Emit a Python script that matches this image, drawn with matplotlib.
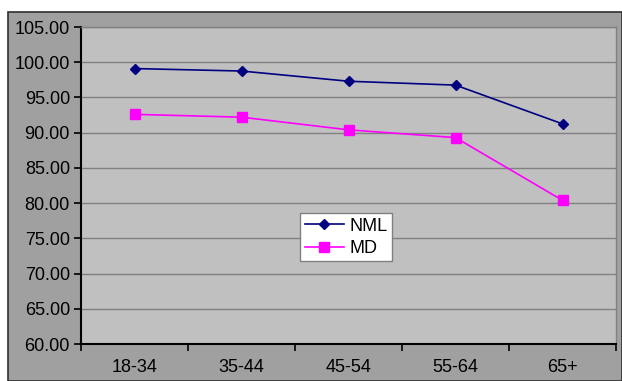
import matplotlib
matplotlib.use('Agg')
import matplotlib.pyplot as plt
from matplotlib.patches import Rectangle
import numpy as np

plt.rcParams['font.family'] = ['Liberation Sans', 'DejaVu Sans']

categories = ['18-34', '35-44', '45-54', '55-64', '65+']
nml = [99.1, 98.75, 97.3, 96.75, 91.25]
md = [92.6, 92.2, 90.4, 89.3, 80.4]
yticks = [60, 65, 70, 75, 80, 85, 90, 95, 100, 105]

fig = plt.figure(figsize=(6.22, 3.81), dpi=100)
fig.patch.set_facecolor('white')
# outer grey chart area
fig.add_artist(Rectangle((8 / 622, 0), 1 - 8 / 622, (381 - 12) / 381,
                         transform=fig.transFigure, facecolor='#a0a0a0',
                         edgecolor='#303030', linewidth=1.2, zorder=-10))

ax = fig.add_axes([81 / 622, 1 - 344 / 381, 535 / 622, (344 - 27) / 381])
ax.set_facecolor('#c0c0c0')

x = np.arange(len(categories))
ax.plot(x, nml, color='#000080', marker='D', markersize=5, linewidth=1.2, label='NML')
ax.plot(x, md, color='#ff00ff', marker='s', markersize=7, linewidth=1.2, label='MD')

ax.set_xlim(-0.5, len(categories) - 0.5)
ax.set_ylim(60, 105)
ax.set_yticks(yticks)
ax.set_yticklabels(['%.2f' % v for v in yticks], fontsize=13)
ax.yaxis.grid(True, color='#808080', linewidth=1)
ax.set_axisbelow(True)

ax.set_xticks(x)
ax.set_xticklabels(categories, fontsize=13)
ax.set_xticks(np.arange(-0.5, len(categories)), minor=True)
ax.tick_params(axis='x', which='major', length=0, pad=11)
ax.tick_params(axis='x', which='minor', length=5, width=1.2, direction='out')
ax.tick_params(axis='y', length=5, width=1.2, direction='out', pad=3)

for side in ['left', 'bottom']:
    ax.spines[side].set_color('black')
    ax.spines[side].set_linewidth(1.5)
for side in ['top', 'right']:
    ax.spines[side].set_color('#808080')
    ax.spines[side].set_linewidth(1)

leg = ax.legend(loc='upper left', bbox_to_anchor=(219 / 535, 1 - (213 - 27) / 317),
                fontsize=13, fancybox=False, framealpha=1, edgecolor='#808080',
                handlelength=2.2, borderpad=0.25, labelspacing=0.3, handletextpad=0.3,
                borderaxespad=0)
leg.get_frame().set_linewidth(1)

fig.savefig('out.png', dpi=100)
